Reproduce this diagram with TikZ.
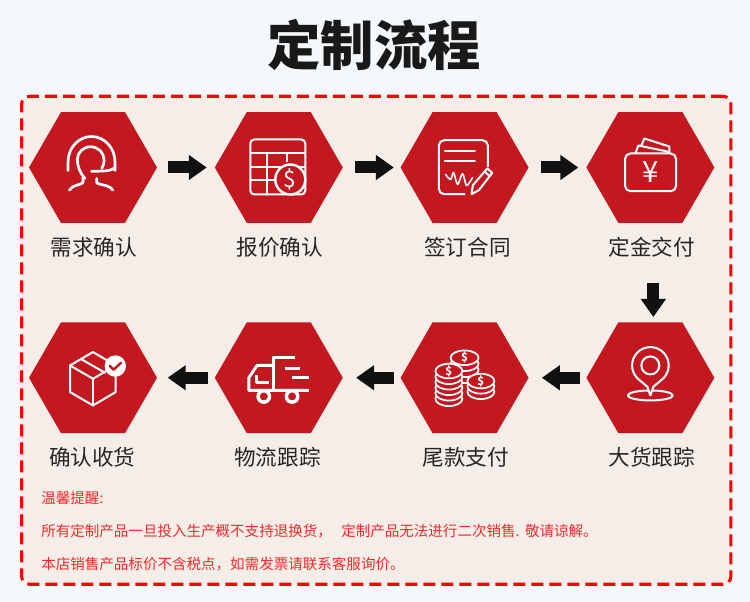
\documentclass[tikz,border=0pt]{standalone}
\usepackage{fontspec}
\setmainfont{Noto Sans CJK SC}
\usepackage{tikz}
\usetikzlibrary{positioning,calc,arrows.meta,shapes.geometric}
\definecolor{pagebg}{HTML}{F4F8FB}
\definecolor{panelbg}{HTML}{F5EDE8}
\definecolor{hexred}{HTML}{C41820}
\definecolor{noticered}{HTML}{F42A2A}
\definecolor{arrowblack}{HTML}{111111}
\tikzset{
	hexnode/.style={regular polygon, regular polygon sides=6, minimum size=96pt, inner sep=0pt, outer sep=0pt, fill=hexred},
	steptext/.style={font=\fontsize{16.2}{16.2}\selectfont, text=black!85, inner sep=0pt},
	noticetext/.style={font=\fontsize{10.9}{11}\selectfont, text=noticered, inner sep=0pt, anchor=west},
	flowarrow/.style={-{Triangle[length=13.5pt,width=18pt]}, line width=9pt, draw=arrowblack},
	iconline/.style={draw=white, line width=1.5pt, line cap=round, line join=round},
	coinsign/.style={text=white, font=\fontsize{8.5}{8.5}\selectfont\bfseries, inner sep=0pt},
}
\begin{document}
\begin{tikzpicture}[x=0.75pt,y=-0.75pt]
		\useasboundingbox[fill=pagebg] (0,0) rectangle (750,602);
		\node[font=\fontsize{40}{40}\selectfont\bfseries, text=black!90, inner sep=0pt] (title) at (374,45) {定制流程};
		\node[draw=red, fill=panelbg, line width=2.3pt, dash pattern=on 9pt off 4.5pt, rounded corners=6pt, minimum width=532pt, minimum height=366pt, inner sep=0pt] (panel) at (376.25,340.25) {};

		\node[hexnode] (need) at (93,167.5) {};
		\node[hexnode, right=1.523cm of need] (quote) {};
		\node[hexnode, right=1.523cm of quote] (sign) {};
		\node[hexnode, right=1.523cm of sign] (deposit) {};
		\node[hexnode, below=2.62cm of deposit] (track) {};
		\node[hexnode, left=1.523cm of track] (balance) {};
		\node[hexnode, left=1.523cm of balance] (ship) {};
		\node[hexnode, left=1.523cm of ship] (accept) {};

		\node[steptext, below=0.37cm of need, xshift=0.5pt] (needt) {需求确认};
		\node[steptext, below=0.37cm of quote, xshift=0.75pt] (quotet) {报价确认};
		\node[steptext, below=0.37cm of sign, xshift=2.25pt] (signt) {签订合同};
		\node[steptext, below=0.37cm of deposit, xshift=1pt] (depositt) {定金交付};
		\node[steptext, below=0.37cm of track, xshift=1pt] (trackt) {大货跟踪};
		\node[steptext, below=0.37cm of balance, xshift=1pt] (balancet) {尾款支付};
		\node[steptext, below=0.37cm of ship, xshift=-1pt] (shipt) {物流跟踪};
		\node[steptext, below=0.37cm of accept, xshift=-0.5pt] (acceptt) {确认收货};

		\node[noticetext] (notice1) at (41,498) {温馨提醒:};
		\node[noticetext] (notice2) at (41,531) {所有定制产品一旦投入生产概不支持退换货，\hspace{7pt}定制产品无法进行二次销售.\hspace{4pt}敬请谅解。};
		\node[noticetext] (notice3) at (41,564) {本店销售产品标价不含税点，如需发票请联系客服询价。};

		\draw[flowarrow, shorten <=8pt, shorten >=6pt] (need) -- (quote);
		\draw[flowarrow, shorten <=9pt, shorten >=5pt] (quote) -- (sign);
		\draw[flowarrow, shorten <=9pt, shorten >=6pt] (sign) -- (deposit);
		\draw[flowarrow, shorten <=45pt, shorten >=4pt] ([xshift=2.25pt]deposit.south) -- ([xshift=2.25pt]track.north);
		\draw[flowarrow, shorten <=5pt, shorten >=10pt] (track) -- (balance);
		\draw[flowarrow, shorten <=5pt, shorten >=10pt] (balance) -- (ship);
		\draw[flowarrow, shorten <=5pt, shorten >=8pt] (ship) -- (accept);

		\begin{scope}[shift={(need.center)}]
			\draw[iconline, line width=2pt] (-25,3) -- (-25,-5.5) arc[start angle=180,end angle=360,x radius=23.5,y radius=25.5] -- (22,3);
			\draw[iconline, line width=2pt] (-8,11) .. controls (-13,6) and (-15.7,-2) .. (-15.7,-8) arc[start angle=180,end angle=360,x radius=13.35,y radius=12.7] .. controls (11,-4) and (10.5,-2) .. (8.7,1);
			\draw[iconline, line width=2pt] (22,0) .. controls (18,4) and (8,3.7) .. (-1.5,3.7);
			\draw[iconline, line width=2pt] (-23.7,22.7) .. controls (-21,17) and (-11,17.5) .. (-10,15) -- (-10,10);
			\draw[iconline, line width=2pt] (19.7,22.7) .. controls (17,17) and (4.7,17.5) .. (3.7,15) -- (3.7,11);
		\end{scope}

		\begin{scope}[shift={(quote.center)}]
			\draw[iconline, rounded corners=3pt] (-28.5,-28) rectangle (26.5,27);
			\draw[iconline] (-28.5,-14) -- (26.5,-14);
			\draw[iconline] (-28.5,-0.7) -- (26.5,-0.7);
			\draw[iconline] (-28.5,12.7) -- (26.5,12.7);
			\draw[iconline] (-12,-14) -- (-12,27);
			\draw[iconline] (8,-14) -- (8,-6);
			\draw[iconline, fill=hexred, line width=1.8pt] (11.5,12) circle (15);
			\node[text=white, font=\fontsize{17}{17}\selectfont, inner sep=0pt] (quotecoin) at (11.5,12) {\$};
		\end{scope}

		\begin{scope}[shift={(sign.center)}]
			\draw[iconline, rounded corners=4pt] (0,26.7) -- (-25.7,26.7) -- (-25.7,-27.3) -- (23.3,-27.3) -- (23.3,-1);
			\draw[iconline] (-19.7,-16.3) -- (10.3,-16.3);
			\draw[iconline] (-19.7,-6.7) -- (10.3,-6.7);
			\draw[iconline, line width=1.2pt] plot[smooth] coordinates {(-19,7) (-14,12) (-11,5) (-7,17) (-2,6) (2,18) (8,10)};
			\draw[iconline] (7,26.7) -- (8.3,17.7) -- (22.7,1) -- (27.7,5.3) -- (14.3,22.7) -- cycle;
			\draw[iconline] (20,4) -- (25,8.5);
		\end{scope}

		\begin{scope}[shift={(deposit.center)}]
			\draw[iconline] (-15,-14) -- (-12,-22) -- (17,-16) -- (18,-14);
			\draw[iconline] (-9,-22) -- (-6,-29) -- (19,-21) -- (19,-14);
			\draw[iconline, fill=hexred, rounded corners=4pt] (-25.3,-14) rectangle (25.7,23.7);
			\node[text=white, font=\fontsize{22}{22}\selectfont, inner sep=0pt] (depositsign) at (0.7,5) {¥};
		\end{scope}

		\begin{scope}[shift={(track.center)}]
			\draw[iconline] (0,17.7) ellipse (22.5 and 5);
			\draw[iconline, fill=hexred] (0,17.7) -- (-3,9) -- (-12.9,0.6) arc[start angle=135,end angle=405,radius=18.3] -- (3,9) -- cycle;
			\draw[iconline] (0,-12.3) circle (9);
		\end{scope}

		\begin{scope}[shift={(balance.center)}]
			\foreach \cy in {-2,-8,-14,-20}
				\draw[iconline, fill=hexred, line width=1.3pt] (0,\cy) ellipse (14 and 7.3);
			\foreach \cy in {21,15.5,10,4.5,-1,-6.7}
				\draw[iconline, fill=hexred, line width=1.3pt] (-15.7,\cy) ellipse (13.5 and 7.3);
			\foreach \cy in {14,8.6,3.3}
				\draw[iconline, fill=hexred, line width=1.3pt] (16.3,\cy) ellipse (13.5 and 7.3);
			\node[coinsign] (coin1) at (0,-20) {\$};
			\node[coinsign] (coin2) at (-15.7,-6.7) {\$};
			\node[coinsign] (coin3) at (16.3,3.3) {\$};
		\end{scope}

		\begin{scope}[shift={(ship.center)}]
			\draw[iconline, line width=2.2pt, line cap=butt] (16.7,-20) -- (-5,-20) -- (-5,12.7);
			\draw[iconline, line width=2.2pt, line cap=butt] (30,12.7) -- (-30,12.7) -- (-30,0) -- (-21.7,-12.3) -- (-5,-12.3);
			\draw[iconline, line width=2.2pt, line cap=butt] (-22.3,-2.3) -- (-22.3,4.3) -- (-10,4.3);
			\draw[iconline, line width=2.2pt, line cap=butt] (6.7,-9) -- (21.7,-9);
			\draw[iconline, line width=2.2pt, line cap=butt] (13.3,0) -- (30,0);
			\draw[iconline, fill=hexred, line width=2.6pt] (-15,18.7) circle (5.7);
			\draw[iconline, fill=hexred, line width=2.6pt] (13.3,18.7) circle (5.7);
		\end{scope}

		\begin{scope}[shift={(accept.center)}]
			\draw[iconline] (0,-25.7) -- (-23,-12.3) -- (-23,14.3) -- (0,27.7) -- (22.7,14.3) -- (22.7,-12.3) -- cycle;
			\draw[iconline] (-23,-12.3) -- (0,1) -- (22.7,-12.3);
			\draw[iconline] (0,1) -- (0,27.7);
			\draw[iconline] (-11.3,-18.3) -- (12,-5);
			\fill[white] (22.3,-11.7) circle (10.7);
			\draw[draw=hexred, line width=1.8pt, line cap=round, line join=round] (16.7,-12) -- (20.5,-8) -- (28,-15);
		\end{scope}
	\end{tikzpicture}
\end{document}
